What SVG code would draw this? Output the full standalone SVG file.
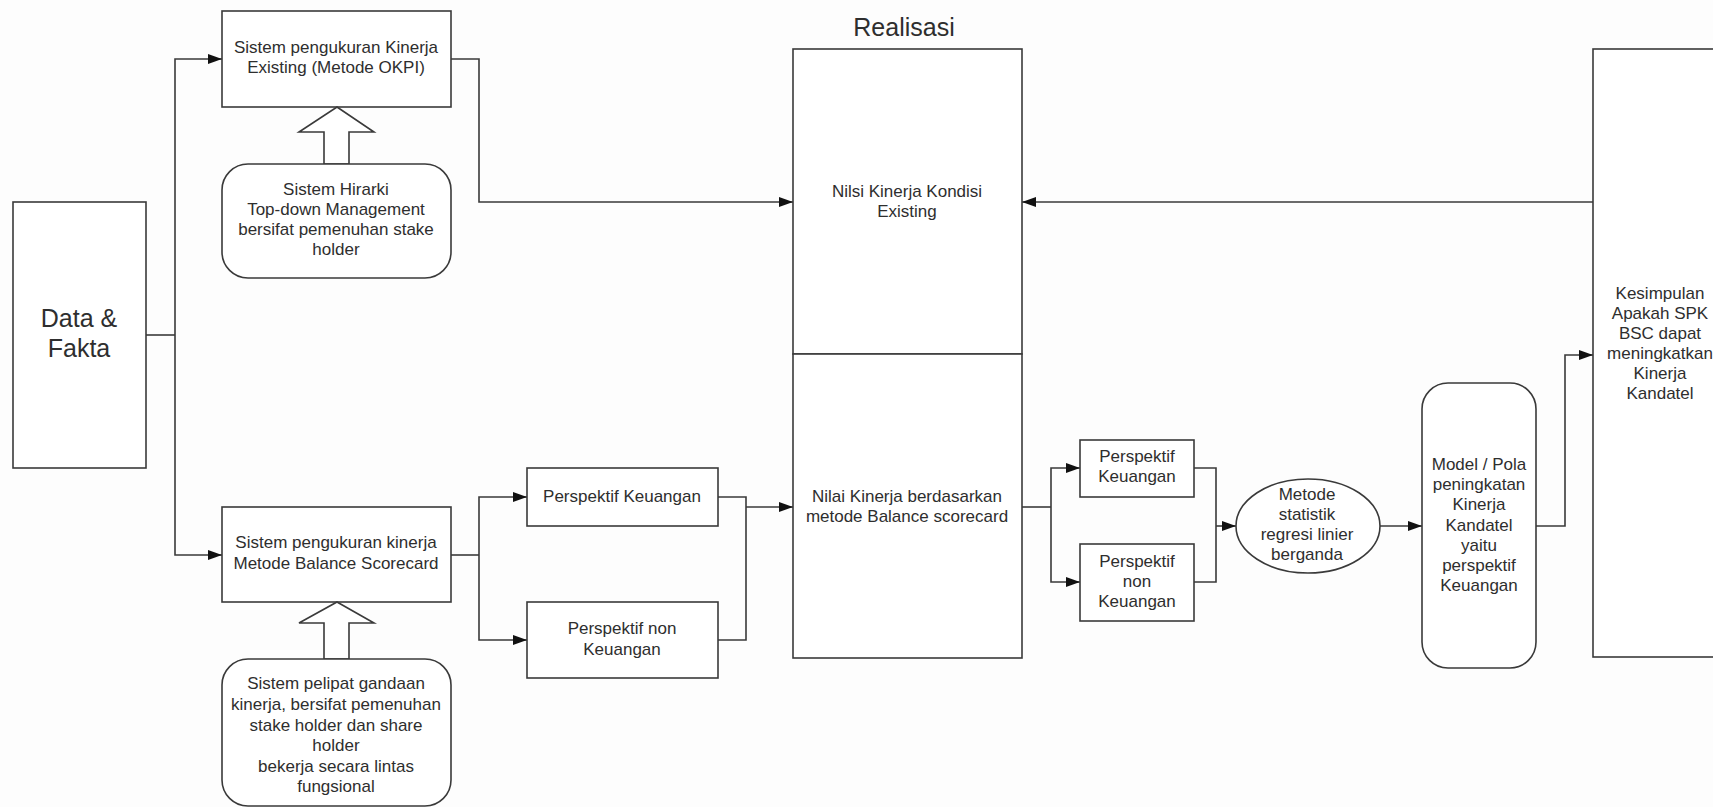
<svg xmlns="http://www.w3.org/2000/svg" width="1713" height="807" viewBox="0 0 1713 807">
  <style>
    .box { fill: #ffffff; stroke: #3a3a3a; stroke-width: 1.6; }
    .conn { fill: none; stroke: #3a3a3a; stroke-width: 1.6; }
    .t { font-family: "Liberation Sans", Arial, sans-serif; font-size: 17px; fill: #2e2e2e; text-anchor: middle; }
    .big { font-size: 25px; }
  </style>
  <defs>
    <marker id="arr" viewBox="0 0 14 10" markerWidth="14" markerHeight="10" refX="14" refY="5" orient="auto" markerUnits="userSpaceOnUse">
      <path d="M0,0 L14,5 L0,10 z" fill="#111"/>
    </marker>
  </defs>
  <rect width="1713" height="807" fill="#fdfdfd"/>

  <g id="connectors">
    <polyline class="conn" points="146,335 175,335"/>
    <polyline class="conn" points="175,335 175,59 222,59" marker-end="url(#arr)"/>
    <polyline class="conn" points="175,335 175,555 222,555" marker-end="url(#arr)"/>
    <polyline class="conn" points="451,59 479,59 479,202 793,202" marker-end="url(#arr)"/>
    <polyline class="conn" points="1593,202 1022,202" marker-end="url(#arr)"/>
    <polyline class="conn" points="451,555 479,555"/>
    <polyline class="conn" points="479,555 479,497 527,497" marker-end="url(#arr)"/>
    <polyline class="conn" points="479,555 479,640 527,640" marker-end="url(#arr)"/>
    <polyline class="conn" points="718,497 746,497 746,640 718,640"/>
    <polyline class="conn" points="746,507 793,507" marker-end="url(#arr)"/>
    <polyline class="conn" points="1022,507 1051,507"/>
    <polyline class="conn" points="1051,507 1051,468 1080,468" marker-end="url(#arr)"/>
    <polyline class="conn" points="1051,507 1051,582 1080,582" marker-end="url(#arr)"/>
    <polyline class="conn" points="1194,468 1216,468 1216,582 1194,582"/>
    <polyline class="conn" points="1216,526 1236,526" marker-end="url(#arr)"/>
    <polyline class="conn" points="1380,526 1422,526" marker-end="url(#arr)"/>
    <polyline class="conn" points="1536,526 1565,526 1565,355 1593,355" marker-end="url(#arr)"/>
  </g>

  <g id="data-fakta">
    <rect class="box" x="13" y="202" width="133" height="266"/>
    <text class="t big" x="79" y="327">Data &amp;</text>
    <text class="t big" x="79" y="357">Fakta</text>
  </g>

  <g id="okpi">
    <rect class="box" x="222" y="11" width="229" height="96"/>
    <text class="t" x="336" y="53">Sistem pengukuran Kinerja</text>
    <text class="t" x="336" y="73">Existing (Metode OKPI)</text>
  </g>

  <g id="block-arrow-top">
    <path class="box" d="M337,107 L374,132 L349,132 L349,164 L324,164 L324,132 L299,132 Z"/>
  </g>

  <g id="hirarki">
    <rect class="box" x="222" y="164" width="229" height="114" rx="26" ry="26"/>
    <text class="t" x="336" y="195">Sistem Hirarki</text>
    <text class="t" x="336" y="215">Top-down Management</text>
    <text class="t" x="336" y="235">bersifat pemenuhan stake</text>
    <text class="t" x="336" y="255">holder</text>
  </g>

  <g id="bsc">
    <rect class="box" x="222" y="507" width="229" height="95"/>
    <text class="t" x="336" y="548">Sistem pengukuran kinerja</text>
    <text class="t" x="336" y="569">Metode Balance Scorecard</text>
  </g>

  <g id="block-arrow-bottom">
    <path class="box" d="M337,602 L374,623 L349,623 L349,659 L324,659 L324,623 L299,623 Z"/>
  </g>

  <g id="pelipat">
    <rect class="box" x="222" y="659" width="229" height="147" rx="26" ry="26"/>
    <text class="t" x="336" y="689">Sistem pelipat gandaan</text>
    <text class="t" x="336" y="710">kinerja, bersifat pemenuhan</text>
    <text class="t" x="336" y="731">stake holder dan share</text>
    <text class="t" x="336" y="751">holder</text>
    <text class="t" x="336" y="772">bekerja secara lintas</text>
    <text class="t" x="336" y="792">fungsional</text>
  </g>

  <g id="persp-keuangan-1">
    <rect class="box" x="527" y="468" width="191" height="58"/>
    <text class="t" x="622" y="502">Perspektif Keuangan</text>
  </g>

  <g id="persp-non-1">
    <rect class="box" x="527" y="602" width="191" height="76"/>
    <text class="t" x="622" y="634">Perspektif non</text>
    <text class="t" x="622" y="655">Keuangan</text>
  </g>

  <g id="realisasi-label">
    <text class="t big" x="904" y="36">Realisasi</text>
  </g>

  <g id="nilai-existing">
    <rect class="box" x="793" y="49" width="229" height="305"/>
    <text class="t" x="907" y="197">Nilsi Kinerja Kondisi</text>
    <text class="t" x="907" y="217">Existing</text>
  </g>

  <g id="nilai-bsc">
    <rect class="box" x="793" y="354" width="229" height="304"/>
    <text class="t" x="907" y="502">Nilai Kinerja berdasarkan</text>
    <text class="t" x="907" y="522">metode Balance scorecard</text>
  </g>

  <g id="persp-keuangan-2">
    <rect class="box" x="1080" y="440" width="114" height="57"/>
    <text class="t" x="1137" y="462">Perspektif</text>
    <text class="t" x="1137" y="482">Keuangan</text>
  </g>

  <g id="persp-non-2">
    <rect class="box" x="1080" y="544" width="114" height="77"/>
    <text class="t" x="1137" y="567">Perspektif</text>
    <text class="t" x="1137" y="587">non</text>
    <text class="t" x="1137" y="607">Keuangan</text>
  </g>

  <g id="regresi">
    <ellipse class="box" cx="1308" cy="526" rx="72" ry="47"/>
    <text class="t" x="1307" y="500">Metode</text>
    <text class="t" x="1307" y="520">statistik</text>
    <text class="t" x="1307" y="540">regresi linier</text>
    <text class="t" x="1307" y="560">berganda</text>
  </g>

  <g id="model">
    <rect class="box" x="1422" y="383" width="114" height="285" rx="26" ry="26"/>
    <text class="t" x="1479" y="470">Model / Pola</text>
    <text class="t" x="1479" y="490">peningkatan</text>
    <text class="t" x="1479" y="510">Kinerja</text>
    <text class="t" x="1479" y="531">Kandatel</text>
    <text class="t" x="1479" y="551">yaitu</text>
    <text class="t" x="1479" y="571">perspektif</text>
    <text class="t" x="1479" y="591">Keuangan</text>
  </g>

  <g id="kesimpulan">
    <rect class="box" x="1593" y="49" width="140" height="608"/>
    <text class="t" x="1660" y="299">Kesimpulan</text>
    <text class="t" x="1660" y="319">Apakah SPK</text>
    <text class="t" x="1660" y="339">BSC dapat</text>
    <text class="t" x="1660" y="359">meningkatkan</text>
    <text class="t" x="1660" y="379">Kinerja</text>
    <text class="t" x="1660" y="399">Kandatel</text>
  </g>
</svg>
